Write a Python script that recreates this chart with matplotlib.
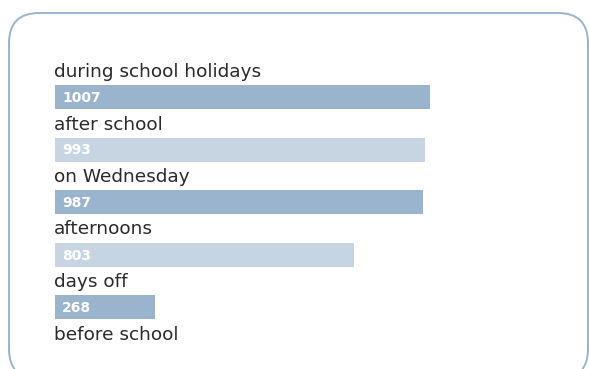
import matplotlib.pyplot as plt
from matplotlib.patches import FancyBboxPatch
from matplotlib.transforms import Affine2D

categories = ['during school holidays', 'after school', 'on Wednesday',
              'afternoons', 'days off', 'before school']
values = [1007, 993, 987, 803, 268, 0]
bar_colors = ['#99b4cc', '#c7d5e2', '#99b4cc', '#c7d5e2', '#99b4cc', '#c7d5e2']

W, H = 589, 369
fig = plt.figure(figsize=(W / 100, H / 100), dpi=100)
ax = fig.add_axes([0, 0, 1, 1])

# axes span the whole figure: 0.3724 px per unit, bars start at x=55px
px_per_unit = 0.3724
ax.set_xlim(-55 / px_per_unit, (W - 55) / px_per_unit)
row_px = 52.5
ax.set_ylim((H - 97) / row_px, -97 / row_px)
ax.axis('off')

for i, (cat, val, col) in enumerate(zip(categories, values, bar_colors)):
    if val > 0:
        ax.barh(i, val, height=24 / row_px, color=col, left=0)
        ax.text(7 / px_per_unit, i + 1 / row_px, str(val), color='white',
                fontweight='bold', fontsize=10, va='center', ha='left',
                family='DejaVu Sans')
    ax.text(-1 / px_per_unit, i - 25 / row_px, cat, color='#2a2a2a',
            fontsize=13.3, va='center', ha='left', family='DejaVu Sans')

# rounded frame in pixel coordinates
pix = Affine2D().scale(1 / W, 1 / H) + fig.transFigure
frame = FancyBboxPatch((9 + 30, -10 + 30), 579 - 60, 366 - 60,
                       boxstyle='round,pad=30', transform=pix,
                       facecolor='none', edgecolor='#9bb4cc', linewidth=1.4)
fig.patches.append(frame)

fig.savefig('out.png', dpi=100)
